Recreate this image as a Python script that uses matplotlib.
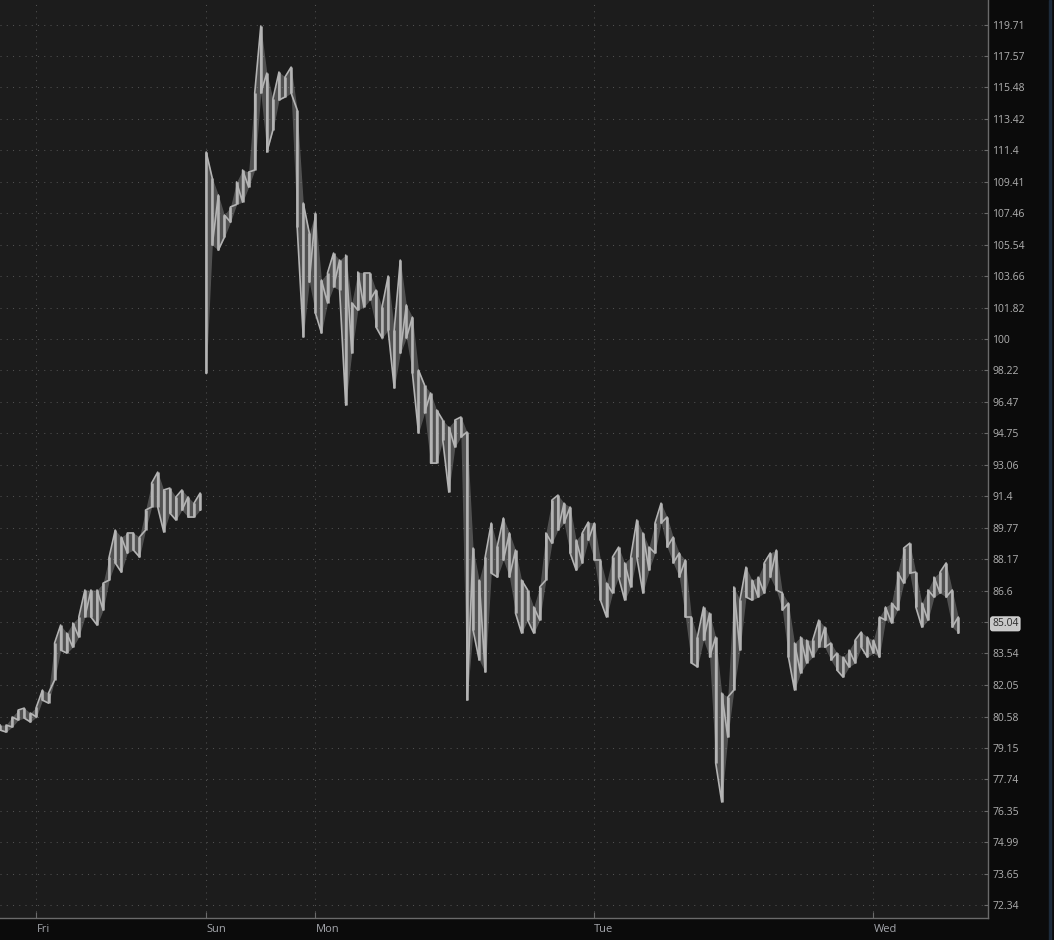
import matplotlib.pyplot as plt
import numpy as np
from matplotlib.patches import Rectangle

# price axis (log spaced ticks, as shown on the right)
price_ticks = [72.34, 73.65, 74.99, 76.35, 77.74, 79.15, 80.58, 82.05, 83.54, 85.04,
               86.6, 88.17, 89.77, 91.4, 93.06, 94.75, 96.47, 98.22, 100, 101.82,
               103.66, 105.54, 107.46, 109.41, 111.4, 113.42, 115.48, 117.57, 119.71]
price_labels = ["72.34", "73.65", "74.99", "76.35", "77.74", "79.15", "80.58", "82.05",
                "83.54", "85.04", "86.6", "88.17", "89.77", "91.4", "93.06", "94.75",
                "96.47", "98.22", "100", "101.82", "103.66", "105.54", "107.46",
                "109.41", "111.4", "113.42", "115.48", "117.57", "119.71"]
last_price = 85.04

# session hours of each day label
day_labels = ["Fri", "Sun", "Mon", "Tue", "Wed"]
day_hours = [3, 17, 26, 49, 72]
bar_len = 0.5  # 30 min bars

# Thu evening / Friday session (high, low per bar)
fri_high = [80.19, 80.19, 80.56, 80.88, 80.97, 80.74, 81.02, 81.81, 81.67, 84.04,
            84.91, 84.52, 85.01, 85.30, 86.63, 86.63, 86.63, 86.97, 88.28, 89.65,
            89.29, 89.50, 89.50, 89.29, 90.68, 92.09, 92.67, 91.73, 91.83, 91.36,
            91.73, 91.36, 91.04, 91.57]
fri_low = [79.96, 79.87, 80.10, 80.42, 80.51, 80.33, 80.56, 81.34, 81.20, 82.28,
           83.70, 83.56, 83.84, 84.33, 85.30, 85.30, 84.91, 85.64, 87.12, 87.98,
           87.52, 88.48, 88.63, 88.28, 89.65, 90.84, 90.84, 89.55, 90.53, 90.17,
           90.68, 90.32, 90.32, 90.68]

# Sunday open -> Wednesday
wk_high = [111.29, 109.64, 108.59, 107.35, 107.85, 109.40, 110.15, 110.02, 115.11, 119.61,
           116.43, 114.72, 116.50, 116.17, 116.83, 114.00, 108.09, 106.25, 107.47, 103.43,
           103.85, 105.04, 104.62, 104.92, 102.09, 103.91, 103.85, 103.85, 102.84, 101.85,
           103.67, 100.52, 104.62, 101.97, 101.26, 98.24, 97.40, 96.96, 96.02, 95.47,
           95.09, 95.47, 95.64, 94.82, 88.73, 87.12, 88.28, 90.01, 88.83, 90.27,
           89.50, 88.63, 87.12, 86.63, 85.79, 86.78, 89.50, 91.20, 91.46, 91.04,
           90.84, 89.14, 89.50, 90.06, 90.01, 88.13, 86.97, 88.28, 88.78, 87.98,
           88.28, 90.17, 89.50, 88.78, 90.01, 91.04, 90.32, 89.29, 88.48, 88.13,
           85.30, 84.33, 85.79, 85.49, 84.33, 81.67, 81.48, 86.78, 86.13, 87.77,
           87.12, 87.27, 87.98, 88.48, 88.63, 86.48, 85.98, 84.04, 84.33, 84.18,
           84.18, 85.15, 84.81, 84.04, 83.56, 83.37, 83.70, 84.18, 84.57, 84.33,
           84.18, 85.30, 85.79, 85.98, 87.52, 88.73, 88.98, 87.52, 85.98, 86.63,
           87.27, 87.52, 87.98, 86.63, 85.30]
wk_low = [98.07, 105.52, 105.22, 106.00, 106.92, 108.00, 108.15, 109.08, 110.15, 115.11,
          111.29, 112.70, 114.65, 114.85, 115.11, 106.61, 100.12, 103.31, 101.50, 100.35,
          102.09, 103.02, 102.84, 96.29, 99.20, 101.67, 101.85, 102.26, 100.69, 100.06,
          100.52, 97.24, 99.20, 100.06, 98.07, 94.77, 95.86, 93.15, 93.15, 94.39,
          91.62, 94.01, 94.55, 81.34, 84.67, 83.23, 82.66, 87.47, 87.27, 88.13,
          87.27, 85.49, 84.52, 85.15, 84.52, 85.15, 87.12, 88.98, 89.65, 90.01,
          88.48, 87.62, 87.98, 89.14, 88.13, 86.13, 85.30, 86.48, 87.27, 86.13,
          86.78, 88.28, 86.48, 87.62, 88.48, 90.01, 88.78, 87.98, 87.27, 85.30,
          83.09, 82.90, 84.18, 83.37, 78.47, 76.74, 79.64, 81.81, 83.70, 86.28,
          86.13, 86.28, 86.48, 87.27, 86.63, 85.64, 83.37, 81.81, 82.61, 83.09,
          83.37, 83.84, 83.84, 83.23, 82.75, 82.42, 82.90, 83.09, 83.84, 83.37,
          83.56, 83.37, 85.15, 85.01, 85.64, 86.97, 87.47, 85.79, 84.81, 85.15,
          86.28, 86.48, 86.28, 84.81, 84.52]

bg = "#1c1c1c"
panel = "#0b0b0b"
line_col = "#b4b4b4"
grid_col = "#505050"


def draw_session(ax, t0, hi, lo):
    hi = np.asarray(hi)
    lo = np.asarray(lo)
    t = t0 + np.arange(len(hi)) * bar_len
    mid = (hi + lo) / 2
    xs, ys = [], []
    for k in range(len(t)):
        up = k + 1 < len(t) and mid[k + 1] > mid[k]
        a, b = (lo[k], hi[k]) if up else (hi[k], lo[k])
        xs += [t[k], t[k]]
        ys += [a, b]
    # faint range band + bright high/low strokes
    ax.fill_between(t, lo, hi, color=line_col, alpha=0.35, lw=0, zorder=2)
    ax.vlines(t, lo, hi, color=line_col, lw=1.8, zorder=3)
    ax.plot(xs, ys, color=line_col, lw=1.2, zorder=3)


fig = plt.figure(figsize=(10.54, 9.40), dpi=100, facecolor=panel)
ax = fig.add_axes([0, 22 / 940, 988 / 1054, 918 / 940])
ax.set_facecolor(bg)

draw_session(ax, 0.0, fri_high, fri_low)
draw_session(ax, day_hours[1], wk_high, wk_low)

ax.set_yscale("log")
ax.set_ylim(71.81, 121.40)
ax.set_xlim(0, 988 / 12.13)

ax.set_yticks(price_ticks, price_labels)
ax.yaxis.set_minor_locator(plt.NullLocator())
ax.yaxis.tick_right()
ax.set_xticks(day_hours, day_labels)
for lab in ax.get_xticklabels():
    lab.set_horizontalalignment("left")

ax.tick_params(axis="y", direction="in", length=3, width=0.8, pad=3,
               colors="#6a6a6a", labelcolor="#b0b0b0", labelsize=7.5)
ax.tick_params(axis="x", direction="in", length=4, width=0.8, pad=4,
               colors="#6a6a6a", labelcolor="#a4a6ac", labelsize=8)
for lab in ax.get_yticklabels() + ax.get_xticklabels():
    lab.set_family(["Open Sans", "DejaVu Sans"])

for lab in ax.get_yticklabels():
    if lab.get_text() == f"{last_price:.2f}":
        lab.set_color("#2a2a2a")
        lab.set_bbox(dict(boxstyle="round,pad=0.15,rounding_size=0.2",
                          fc="#c8c8c8", ec="#e0e0e0", lw=0.6))

ax.grid(True, which="major", color=grid_col, lw=0.75, ls=(0, (1, 5)))

for s in ["left", "top"]:
    ax.spines[s].set_visible(False)
for s in ["right", "bottom"]:
    ax.spines[s].set_color("#6a6a6a")
    ax.spines[s].set_linewidth(1.0)

fig.patches.append(Rectangle((1049 / 1054, 0), 2 / 1054, 1, transform=fig.transFigure,
                             color="#1c2a3a", zorder=0))

fig.savefig("out.png", dpi=100, facecolor=fig.get_facecolor())
